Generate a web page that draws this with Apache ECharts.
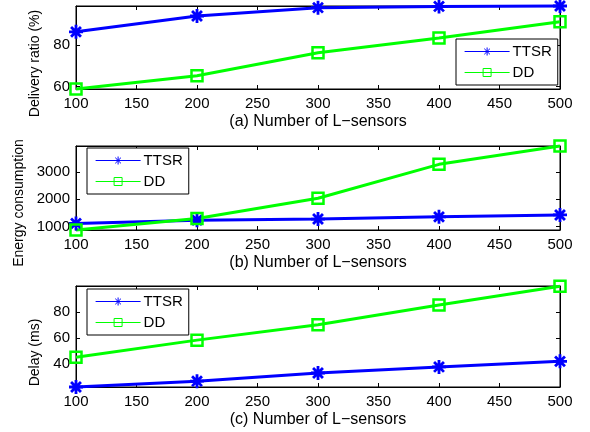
<!DOCTYPE html>
<html>
<head>
<meta charset="utf-8">
<script src="https://cdn.jsdelivr.net/npm/echarts@6/dist/echarts.min.js"></script>
<style>html,body{margin:0;padding:0;background:#fff}#c{width:590px;height:432px}</style>
</head>
<body>
<div id="c"></div>
<script>
// ---- data ----
var sensors = [100, 200, 300, 400, 500];
var xTicks = [100, 150, 200, 250, 300, 350, 400, 450, 500];
var seriesNames = ['TTSR', 'DD'];

var deliveryTTSR = [86.2, 93.8, 97.8, 98.4, 98.6];
var deliveryDD   = [58.8, 65.2, 76.2, 83.3, 91.0];
var deliveryTicks = [60, 80];
var deliveryRange = [58.8, 98.6];

var energyTTSR = [1120, 1240, 1280, 1360, 1430];
var energyDD   = [880, 1300, 2040, 3280, 3950];
var energyTicks = [1000, 2000, 3000];
var energyRange = [880, 3950];

var delayTTSR = [22.0, 26.5, 32.8, 37.5, 41.8];
var delayDD   = [44.9, 58.2, 70.0, 85.4, 99.8];
var delayTicks = [40, 60, 80];
var delayRange = [22, 100];

var xNames = ['(a) Number of L\u2212sensors', '(b) Number of L\u2212sensors', '(c) Number of L\u2212sensors'];
var yNames = ['Delivery ratio (%)', 'Energy consumption', 'Delay (ms)'];

// ---- layout ----
var FONT = 'Liberation Sans, Arial, Helvetica, sans-serif';
var BLUE = '#0000ff', GREEN = '#00ff00';
var ASTER = 'path://M0,-1L0,1M-1,0L1,0M-0.707,-0.707L0.707,0.707M-0.707,0.707L0.707,-0.707';
function plain(v) { return String(v); }

var panels = [
  {top: 6, height: 83, ttsr: deliveryTTSR, dd: deliveryDD, ticks: deliveryTicks, range: deliveryRange, nameGap: 31, namePad: 32, legend: {left: 456, top: 39}},
  {top: 146, height: 84, ttsr: energyTTSR, dd: energyDD, ticks: energyTicks, range: energyRange, nameGap: 44, namePad: 30, legend: {left: 87, top: 148}},
  {top: 286, height: 101, ttsr: delayTTSR, dd: delayDD, ticks: delayTicks, range: delayRange, nameGap: 31, namePad: 32, legend: {left: 87, top: 289}}
];

var grid = [], xAxis = [], yAxis = [], series = [], legend = [];
var axisLine = {show: true, lineStyle: {color: '#000', width: 1}};
var tickStyle = {color: '#000', width: 1};

panels.forEach(function (p, i) {
  grid.push({left: 76, right: 30, top: p.top, height: p.height, show: true, borderColor: '#000', borderWidth: 1});
  xAxis.push({
    type: 'value', gridIndex: i, position: 'bottom', min: 100, max: 500, interval: 50,
    axisLine: axisLine, splitLine: {show: false},
    axisTick: {inside: true, length: 4, lineStyle: tickStyle},
    axisLabel: {color: '#000', fontSize: 15, fontFamily: FONT, margin: 7, formatter: plain},
    name: xNames[i], nameLocation: 'middle', nameGap: 25,
    nameTextStyle: {color: '#000', fontSize: 16, fontFamily: FONT}
  });
  xAxis.push({
    type: 'value', gridIndex: i, position: 'top', min: 100, max: 500, interval: 50,
    axisLine: axisLine, splitLine: {show: false},
    axisTick: {inside: true, length: 4, lineStyle: tickStyle},
    axisLabel: {show: false}
  });
  yAxis.push({
    type: 'value', gridIndex: i, position: 'left', min: p.range[0], max: p.range[1],
    axisLine: axisLine, splitLine: {show: false},
    axisTick: {inside: true, length: 4, lineStyle: tickStyle, customValues: p.ticks},
    axisLabel: {color: '#000', fontSize: 15, fontFamily: FONT, margin: 6, customValues: p.ticks, formatter: plain},
    name: yNames[i], nameLocation: 'middle', nameGap: p.nameGap,
    nameTextStyle: {color: '#000', fontSize: 14, fontFamily: FONT, padding: [0, p.namePad, 0, 0]}
  });
  yAxis.push({
    type: 'value', gridIndex: i, position: 'right', min: p.range[0], max: p.range[1],
    axisLine: axisLine, splitLine: {show: false},
    axisTick: {inside: true, length: 4, lineStyle: tickStyle, customValues: p.ticks},
    axisLabel: {show: false, customValues: p.ticks}
  });
  series.push({
    name: seriesNames[0], type: 'line', xAxisIndex: 2 * i, yAxisIndex: 2 * i, clip: false,
    data: sensors.map(function (x, k) { return [x, p.ttsr[k]]; }),
    symbol: ASTER, symbolSize: 14, showAllSymbol: true,
    lineStyle: {color: BLUE, width: 3},
    itemStyle: {color: BLUE, borderColor: BLUE, borderWidth: 2.8},
    emphasis: {disabled: true}, animation: false
  });
  series.push({
    name: seriesNames[1], type: 'line', xAxisIndex: 2 * i, yAxisIndex: 2 * i, clip: false,
    data: sensors.map(function (x, k) { return [x, p.dd[k]]; }),
    symbol: 'rect', symbolSize: 11, showAllSymbol: true,
    lineStyle: {color: GREEN, width: 3},
    itemStyle: {color: 'rgba(0,0,0,0)', borderColor: GREEN, borderWidth: 2.5},
    emphasis: {disabled: true}, animation: false
  });
  legend.push({
    data: seriesNames, orient: 'vertical', left: p.legend.left, top: p.legend.top,
    itemWidth: 45, itemHeight: 10, itemGap: 6, padding: [5, 6, 5, 8],
    backgroundColor: '#fff', borderColor: '#000', borderWidth: 1, borderRadius: 0,
    selectedMode: false,
    textStyle: {color: '#000', fontSize: 15, fontFamily: FONT, padding: [0, 0, 0, -2]},
    lineStyle: {width: 1.2},
    itemStyle: {borderWidth: 1}
  });
});

var chart = echarts.init(document.getElementById('c'), null, {renderer: 'canvas'});
chart.setOption({
  animation: false,
  backgroundColor: '#fff',
  grid: grid, xAxis: xAxis, yAxis: yAxis, series: series, legend: legend
});
</script>
</body>
</html>
